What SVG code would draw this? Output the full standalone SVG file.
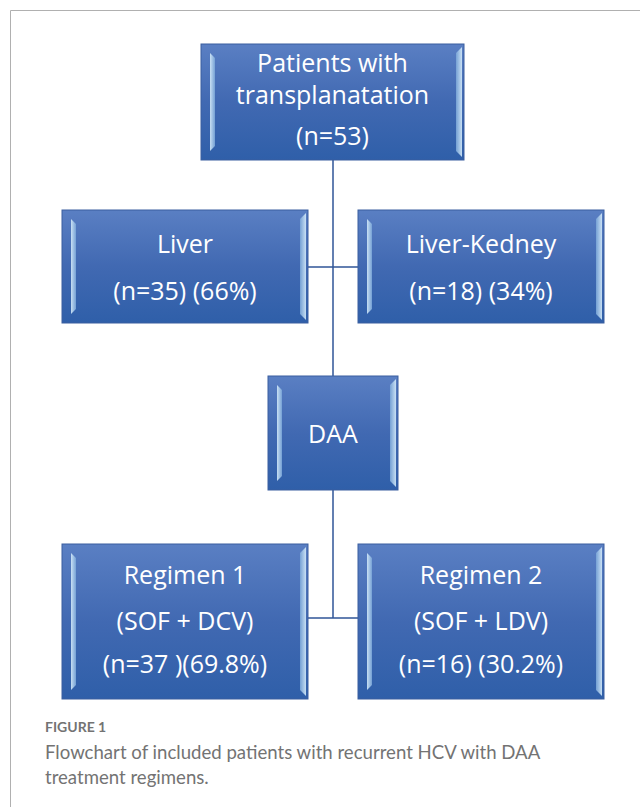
<svg xmlns="http://www.w3.org/2000/svg" width="640" height="807" viewBox="0 0 640 807">
<defs>
<linearGradient id="fill" x1="0" y1="0" x2="0" y2="1">
<stop offset="0" stop-color="#5a7fc3"/>
<stop offset="0.5" stop-color="#4169b2"/>
<stop offset="1" stop-color="#2f5fa9"/>
</linearGradient>
<linearGradient id="bevL" x1="0" y1="0" x2="1" y2="0">
<stop offset="0" stop-color="#d6ecfa"/>
<stop offset="1" stop-color="#7aa6d8"/>
</linearGradient>
<linearGradient id="bevR" x1="0" y1="0" x2="1" y2="0">
<stop offset="0" stop-color="#7aa6d8"/>
<stop offset="1" stop-color="#d6ecfa"/>
</linearGradient>
<style>
.box{fill:url(#fill);stroke:#3b5f9f;stroke-width:1}
.bl{fill:url(#bevL);opacity:0.9}
.br{fill:url(#bevR);opacity:0.9}
.t{font-family:"Open Sans","Liberation Sans",sans-serif;font-size:25px;fill:#ffffff;text-anchor:middle}
.conn{stroke:#2f5597;stroke-width:1.5;fill:none}
.cap{font-family:"Lato","Liberation Sans",sans-serif;fill:#737373}
</style>
</defs>
<rect width="640" height="807" fill="#ffffff"/>
<path d="M10.5,807 V10.5 H640" fill="none" stroke="#b0b0b0" stroke-width="1"/>

<g id="connectors">
<line class="conn" x1="333" y1="160" x2="333" y2="376"/>
<line class="conn" x1="308" y1="267" x2="358" y2="267"/>
<line class="conn" x1="333" y1="490" x2="333" y2="618"/>
<line class="conn" x1="308" y1="618" x2="358" y2="618"/>
</g>

<g id="patients">
<rect class="box" x="201" y="44" width="263" height="116"/>
<polygon class="bl" points="210,53 215,58 215,146 210,151"/>
<polygon class="br" points="462,47 456,53 456,151 462,157"/>
<text class="t" x="332.5" y="72">Patients with</text>
<text class="t" x="332.5" y="104">transplanatation</text>
<text class="t" x="332.5" y="145">(n=53)</text>
</g>

<g id="liver">
<rect class="box" x="62" y="210" width="246" height="113"/>
<polygon class="bl" points="71,219 76,224 76,309 71,314"/>
<polygon class="br" points="306,213 300,219 300,314 306,320"/>
<text class="t" x="185" y="253">Liver</text>
<text class="t" x="185" y="300">(n=35) (66%)</text>
</g>

<g id="liver-kedney">
<rect class="box" x="358" y="210" width="246" height="113"/>
<polygon class="bl" points="367,219 372,224 372,309 367,314"/>
<polygon class="br" points="602,213 596,219 596,314 602,320"/>
<text class="t" x="481" y="253">Liver-Kedney</text>
<text class="t" x="481" y="300">(n=18) (34%)</text>
</g>

<g id="daa">
<rect class="box" x="268" y="376" width="130" height="114"/>
<polygon class="bl" points="277,385 282,390 282,476 277,481"/>
<polygon class="br" points="396,379 390,385 390,481 396,487"/>
<text class="t" x="333" y="443">DAA</text>
</g>

<g id="regimen1">
<rect class="box" x="62" y="544" width="246" height="155"/>
<polygon class="bl" points="71,553 76,558 76,685 71,690"/>
<polygon class="br" points="306,547 300,553 300,690 306,696"/>
<text class="t" x="185" y="584">Regimen 1</text>
<text class="t" x="185" y="630">(SOF + DCV)</text>
<text class="t" x="185" y="673">(n=37 )(69.8%)</text>
</g>

<g id="regimen2">
<rect class="box" x="358" y="544" width="246" height="155"/>
<polygon class="bl" points="367,553 372,558 372,685 367,690"/>
<polygon class="br" points="602,547 596,553 596,690 602,696"/>
<text class="t" x="481" y="584">Regimen 2</text>
<text class="t" x="481" y="630">(SOF + LDV)</text>
<text class="t" x="481" y="673">(n=16) (30.2%)</text>
</g>

<g id="caption">
<text class="cap" x="45" y="732" font-size="14" font-weight="bold">FIGURE 1</text>
<text class="cap" x="45" y="759" font-size="18.6">Flowchart of included patients with recurrent HCV with DAA</text>
<text class="cap" x="45" y="784" font-size="18.6">treatment regimens.</text>
</g>
</svg>
